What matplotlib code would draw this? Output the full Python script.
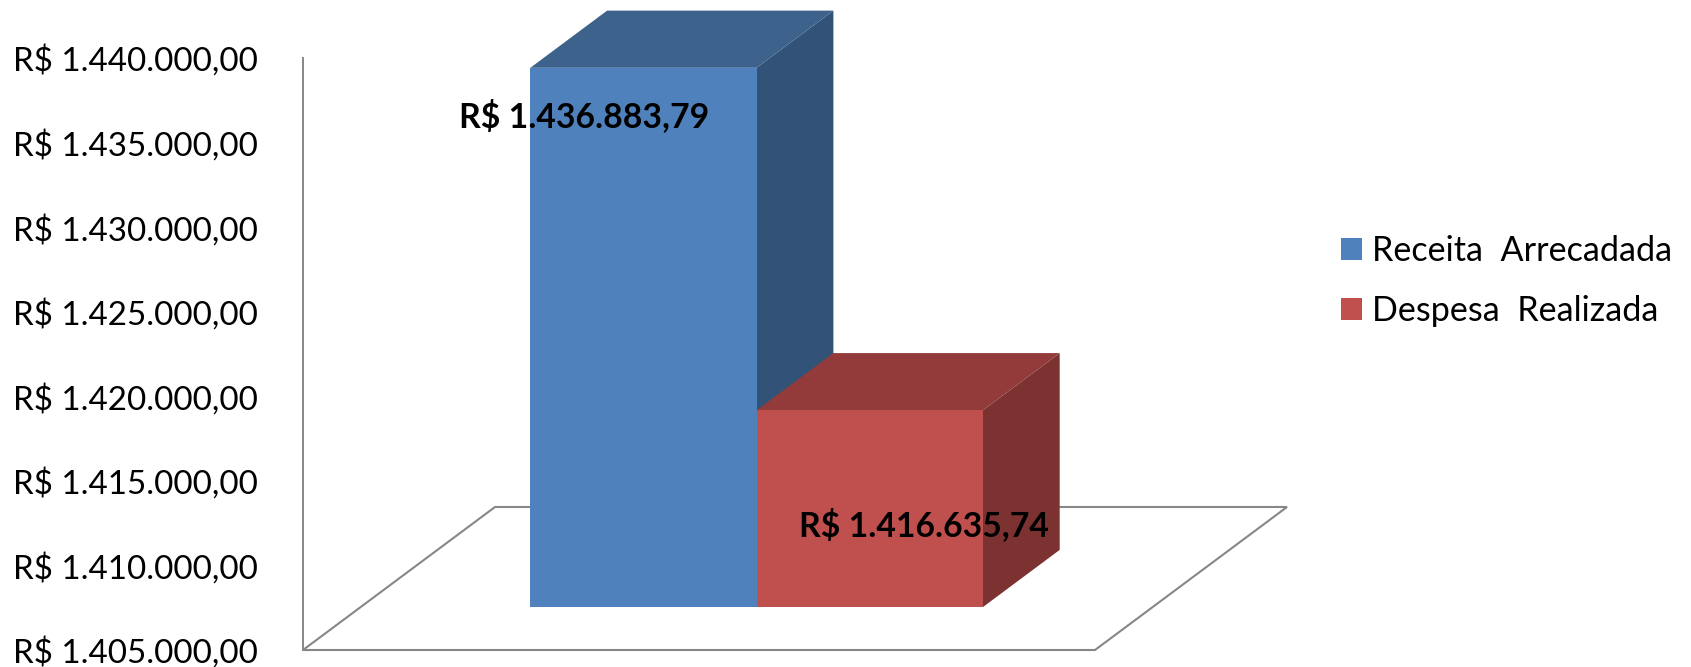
import matplotlib
matplotlib.use("Agg")
import matplotlib.pyplot as plt
from matplotlib.patches import Polygon, Patch
from matplotlib.ticker import FuncFormatter

# ---------------- data ----------------
series = ["Receita  Arrecadada", "Despesa  Realizada"]
values = [1436883.79, 1416635.74]
value_labels = ["R$ 1.436.883,79", "R$ 1.416.635,74"]
y_ticks = [1405000, 1410000, 1415000, 1420000, 1425000, 1430000, 1435000, 1440000]
y_min, y_max = 1405000, 1440000

# ---------------- style ----------------
front_colors = ["#4F81BD", "#C0504D"]
top_colors = ["#3D638C", "#933B3A"]
side_colors = ["#335278", "#7B3231"]
grid_gray = "#878787"

plt.rcParams['font.family'] = ['Lato', 'DejaVu Sans']

W, H = 1691, 667
fig = plt.figure(figsize=(W / 100, H / 100), dpi=100)
# plot area (front plane) in figure fractions
ax = fig.add_axes([303 / W, 1 - 650 / H, (1095 - 303) / W, (650 - 58) / H])
ax.set_xlim(0, 1)
ax.set_ylim(y_min, y_max)

# oblique depth vector for the full floor depth (x in category units, y in value units)
DX = 192 / 792
DY = 143 / 592 * (y_max - y_min)
d0, d1 = 0.3, 0.7          # bar depth extent as fraction of floor depth
bar_w = 1 / 3.5            # Excel gap width 150 %


def P(x, y, d):
    return (x + d * DX, y + d * DY)


# floor
floor = Polygon([P(0, y_min, 0), P(1, y_min, 0), P(1, y_min, 1), P(0, y_min, 1)],
                closed=True, facecolor="white", edgecolor=grid_gray, lw=1.5,
                clip_on=False, zorder=1)
ax.add_patch(floor)

# bars
label_offsets_px = [(-59, -48), (54, -115)]
for i, v in enumerate(values):
    x0 = 0.5 - bar_w + i * bar_w
    x1 = x0 + bar_w
    side = Polygon([P(x1, y_min, d0), P(x1, y_min, d1), P(x1, v, d1), P(x1, v, d0)],
                   closed=True, facecolor=side_colors[i], edgecolor="none",
                   clip_on=False, zorder=2 + i)
    top = Polygon([P(x0, v, d0), P(x1, v, d0), P(x1, v, d1), P(x0, v, d1)],
                  closed=True, facecolor=top_colors[i], edgecolor="none",
                  clip_on=False, zorder=2 + i)
    front = Polygon([P(x0, y_min, d0), P(x1, y_min, d0), P(x1, v, d0), P(x0, v, d0)],
                    closed=True, facecolor=front_colors[i], edgecolor="none",
                    clip_on=False, zorder=2 + i)
    for p in (side, top, front):
        ax.add_patch(p)
    ax.annotate(value_labels[i], xy=P((x0 + x1) / 2, v, d0),
                xytext=label_offsets_px[i], textcoords="offset pixels",
                ha="center", va="center", fontsize=24.3, fontweight="bold",
                color="black", zorder=10, annotation_clip=False)

# axis styling
for s in ("top", "right", "bottom"):
    ax.spines[s].set_visible(False)
ax.spines["left"].set_color(grid_gray)
ax.spines["left"].set_linewidth(1.4)
ax.spines["left"].set_zorder(1.5)
ax.set_xticks([])
ax.set_yticks(y_ticks)


def brl(v, pos=None):
    s = f"{v:,.2f}"
    s = s.replace(",", "X").replace(".", ",").replace("X", ".")
    return "R$ " + s


ax.yaxis.set_major_formatter(FuncFormatter(brl))
ax.tick_params(axis="y", length=0, pad=32.4, labelsize=23.9, labelcolor="black")
ax.patch.set_alpha(0)

# legend
handles = [Patch(facecolor=c, edgecolor="none") for c in front_colors]
fig.legend(handles, series, loc="center left",
           bbox_to_anchor=(1341 / W, 1 - 281 / H), frameon=False,
           fontsize=24.6, handlelength=0.62, handleheight=0.62,
           handletextpad=0.3, labelspacing=0.8, borderpad=0, borderaxespad=0)

fig.savefig("out.png", dpi=100)
